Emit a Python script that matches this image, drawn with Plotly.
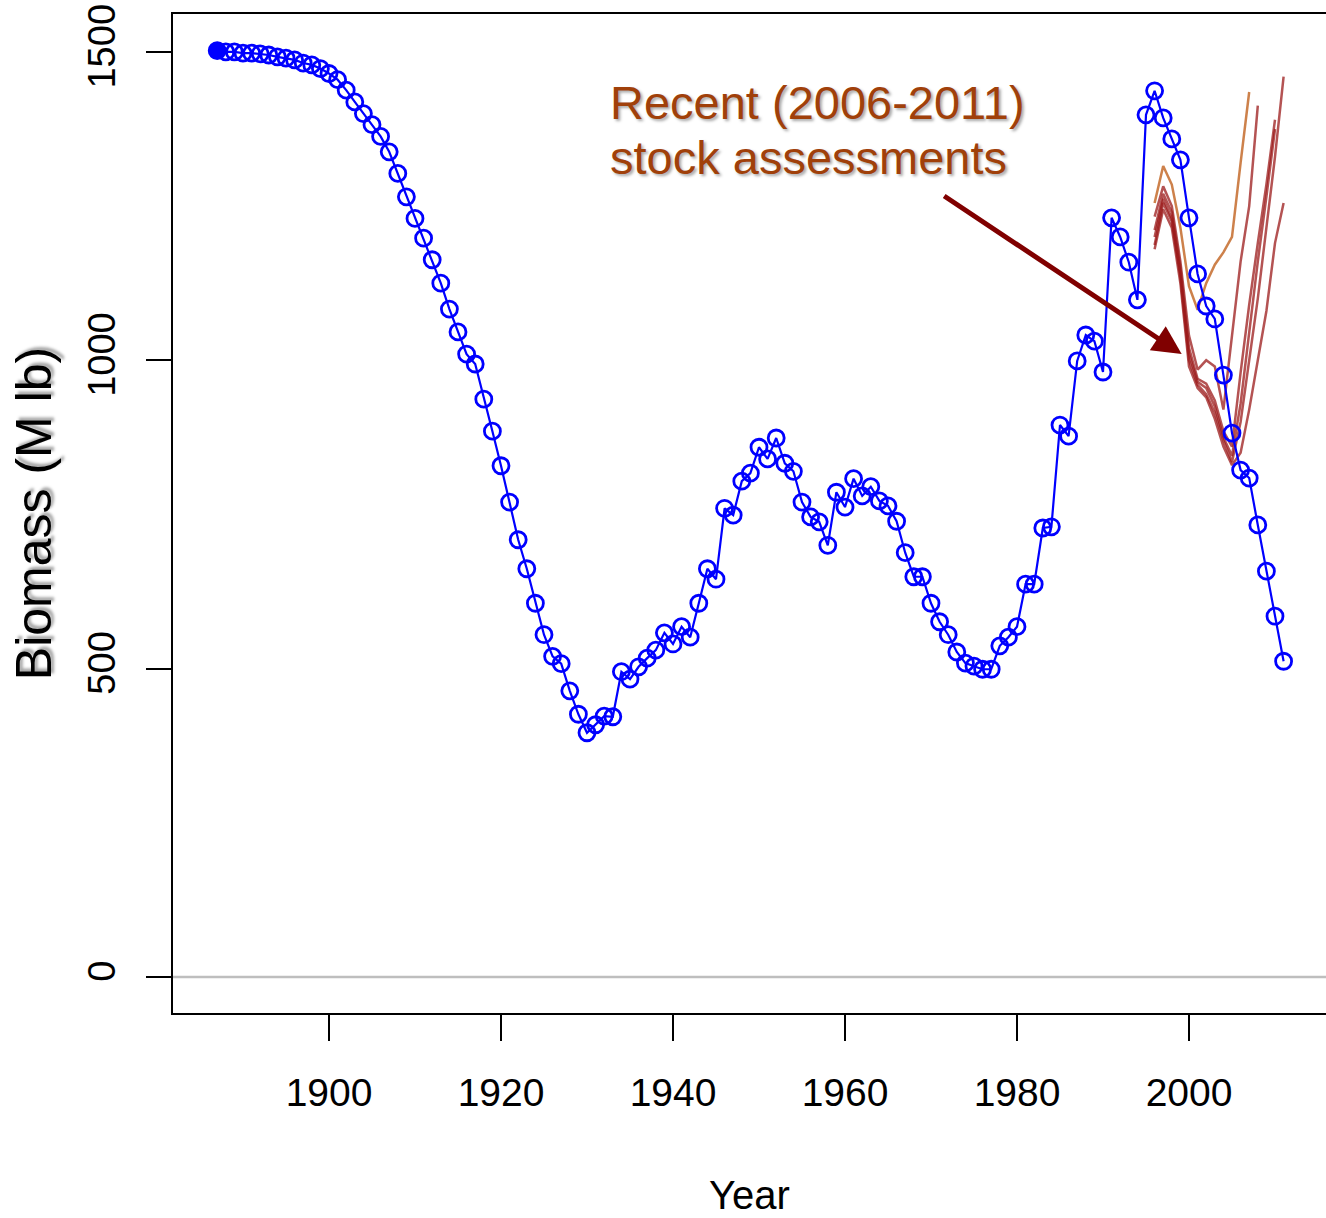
import plotly.graph_objects as go

# ---------------- data ----------------
years = list(range(1887, 2012))
biomass = [
    1502, 1500, 1500, 1498, 1498, 1497, 1495, 1492, 1490, 1487,  # 1887-1896
    1482, 1479, 1473, 1465, 1455, 1438, 1419, 1400, 1382, 1363,  # 1897-1906
    1338, 1303, 1265, 1230, 1198, 1163, 1125, 1083, 1046, 1010,  # 1907-1916
    994, 937, 885, 829, 770, 709, 662, 606, 555, 520,            # 1917-1926
    508, 464, 426, 396, 409, 423, 422, 495, 483, 503,            # 1927-1936
    517, 530, 558, 540, 568, 551, 606, 662, 645, 760,            # 1937-1946
    749, 804, 817, 859, 840, 874, 833, 820, 770, 746,            # 1947-1956
    738, 700, 786, 762, 808, 780, 795, 772, 764, 739,            # 1957-1966
    688, 649, 649, 606, 576, 555, 527, 509, 504, 499,            # 1967-1976
    499, 537, 551, 568, 637, 637, 728, 730, 895, 877,            # 1977-1986
    999, 1041, 1031, 981, 1231, 1200, 1159, 1098, 1398, 1437,    # 1987-1996
    1393, 1359, 1325, 1231, 1140, 1088, 1067, 976, 882, 822,     # 1997-2006
    809, 733, 658, 585, 512,                                     # 2007-2011
]

assess_start = 1996
assess_a = [1255, 1315, 1285, 1215, 1120, 1082, 1125, 1155, 1175, 1200, 1320, 1435]
assess_b = [1233, 1282, 1250, 1160, 1040, 985, 1000, 990, 920, 1040, 1160, 1250, 1413]
assess_c = [1200, 1262, 1230, 1140, 1010, 965, 955, 925, 875, 845, 930, 1050, 1160, 1265, 1375]
assess_d = [1211, 1270, 1240, 1150, 1020, 970, 962, 935, 885, 860, 980, 1090, 1190, 1285, 1390]
assess_e = [1187, 1255, 1225, 1135, 1000, 960, 945, 915, 870, 835, 900, 1000, 1100, 1215, 1330, 1460]
assess_f = [1180, 1245, 1215, 1125, 990, 955, 940, 905, 860, 830, 850, 920, 1000, 1080, 1190, 1255]
assessments = [assess_a, assess_b, assess_c, assess_d, assess_e, assess_f]
assess_colors = ["rgba(200,115,55,0.9)"] + ["rgba(155,25,25,0.75)"] * 5

x_ticks = [1900, 1920, 1940, 1960, 1980, 2000]
y_ticks = [0, 500, 1000, 1500]

# ---------------- layout geometry ----------------
W, H = 1326, 1218
L, R, T, B = 173, 0, 14, 205
x_range = [1881.86, 2015.93]
y_range = [-58.4, 1561.5]

def px_to_paper_x(px):
    return (px - L) / (W - L - R)

def px_to_paper_y(py):
    return (H - B - py) / (H - B - T)

fig = go.Figure()

for vals, col in zip(assessments, assess_colors):
    fig.add_trace(go.Scatter(
        x=list(range(assess_start, assess_start + len(vals))), y=vals,
        mode="lines", line=dict(color=col, width=2.5),
        showlegend=False, hoverinfo="skip"))

fig.add_trace(go.Scatter(
    x=years, y=biomass, mode="lines+markers",
    line=dict(color="#0000FF", width=2.2),
    marker=dict(symbol="circle-open", size=16, color="#0000FF",
                line=dict(color="#0000FF", width=2.8)),
    showlegend=False))

fig.add_trace(go.Scatter(
    x=years[:1], y=biomass[:1], mode="markers",
    marker=dict(symbol="circle", size=16, color="#0000FF"),
    showlegend=False))

# zero line
fig.add_shape(type="line", xref="paper", yref="y", x0=0, x1=1, y0=0, y1=0,
              line=dict(color="#BEBEBE", width=2.5), layer="below")

# annotation text
txt_font = dict(family="Liberation Sans, Arial, sans-serif", size=47,
                color="#A0400A", shadow="2px 2px 3px rgba(0,0,0,0.35)")
fig.add_annotation(text="Recent (2006-2011)", xref="paper", yref="paper",
                   x=px_to_paper_x(608), y=px_to_paper_y(102),
                   xanchor="left", yanchor="middle", showarrow=False, font=txt_font)
fig.add_annotation(text="stock assessments", xref="paper", yref="paper",
                   x=px_to_paper_x(608), y=px_to_paper_y(158),
                   xanchor="left", yanchor="middle", showarrow=False, font=txt_font)

# arrow
fig.add_annotation(x=1999.15, y=1010, ax=1971.36, ay=1268,
                   xref="x", yref="y", axref="x", ayref="y",
                   text="", showarrow=True, arrowhead=2, arrowsize=1.15,
                   arrowwidth=5, arrowcolor="#800000")

axis_font = dict(family="Liberation Sans, Arial, sans-serif", size=39, color="black")

fig.update_layout(
    width=W, height=H,
    margin=dict(l=L, r=R, t=T, b=B, autoexpand=False),
    paper_bgcolor="white", plot_bgcolor="white",
    showlegend=False,
    xaxis=dict(
        range=x_range, tickmode="array", tickvals=x_ticks,
        ticks="outside", ticklen=26, tickwidth=1.5, tickcolor="black",
        showline=True, linecolor="black", linewidth=2, mirror=True,
        showgrid=False, zeroline=False, tickfont=axis_font,
        ticklabelstandoff=18,
        title=dict(text="Year", font=dict(family="Liberation Sans, Arial, sans-serif",
                                          size=40, color="black"), standoff=68),
    ),
    yaxis=dict(
        range=y_range, tickmode="array", tickvals=y_ticks,
        ticks="outside", ticklen=25, tickwidth=1.5, tickcolor="black",
        showline=True, linecolor="black", linewidth=2, mirror=True,
        showgrid=False, zeroline=False, tickangle=-90,
        tickfont=dict(family="Liberation Sans, Arial, sans-serif", size=38, color="black"),
        ticklabelstandoff=16,
        title=dict(text="Biomass (M lb)",
                   font=dict(family="Liberation Sans, Arial, sans-serif", size=50,
                             color="black", shadow="3px 3px 3px rgba(0,0,0,0.35)"),
                   standoff=13),
    ),
)

fig.write_html("out.html")
